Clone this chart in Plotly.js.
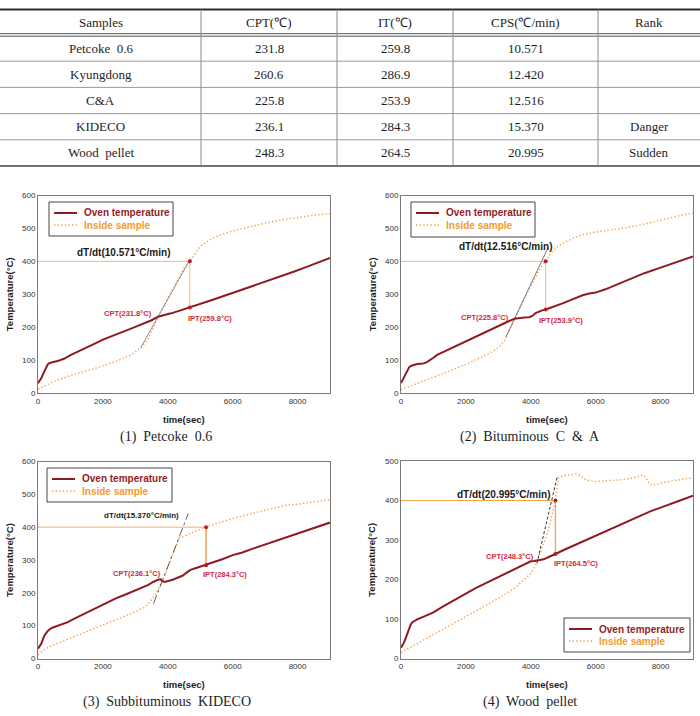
<!DOCTYPE html>
<html>
<head>
<meta charset="utf-8">
<script src="https://cdn.plot.ly/plotly-3.0.1.min.js"></script>
<style>
  html, body { margin: 0; padding: 0; background: #fff; }
  #chart { width: 700px; height: 716px; }
</style>
</head>
<body>
<div id="chart"></div>
<script>
// ---------- Summary table ----------
const tableHeaders = ['Samples', 'CPT(\u2103)', 'IT(\u2103)', 'CPS(\u2103/min)', 'Rank'];
const samples = ['Petcoke\u00a0 0.6', 'Kyungdong', 'C&A', 'KIDECO', 'Wood\u00a0 pellet'];
const cptValues = [231.8, 260.6, 225.8, 236.1, 248.3];
const itValues = [259.8, 286.9, 253.9, 284.3, 264.5];
const cpsValues = [10.571, 12.420, 12.516, 15.370, 20.995];
const rankValues = ['', '', '', 'Danger', 'Sudden'];

// ---------- Heating curves (time in s, temperature in °C) ----------
const panelCaptions = ['(1)\u00a0 Petcoke\u00a0 0.6', '(2)\u00a0 Bituminous\u00a0 C\u00a0 &\u00a0 A',
                       '(3)\u00a0 Subbituminous\u00a0 KIDECO', '(4)\u00a0 Wood\u00a0 pellet'];
const panelRows = [0, 2, 3, 4];          // table row shown in each panel
const cptTimes = [3700, 3500, 3830, 4210];
const iptTimes = [4680, 4460, 5180, 4760];
const tangentLow = [138, 170, 167, 241];
const tangentHigh = [408, 442, 441, 463];

const ovenTime1 = [0,50,100,150,200,250,300,350,400,500,600,800,1000,1250,1500,1750,2000,2250,2500,2750,3000,3250,3500,3700,3900,4100,4300,4500,4680,4900,5200,5500,5800,6100,6400,6700,7000,7300,7600,7900,8200,8500,8800,9000];
const ovenTemp1 = [30,36,45,56,68,80,87,91,93,95,97,104,115,126,138,150,162,171,181,191,201,211,221,231.8,236,242,248,254,259.8,267,277,287,297,307,317,327,338,349,359,369,380,391,402,410];
const insideTime1 = [0,500,1000,1500,2000,2500,2900,3200,3400,3550,3700,3900,4100,4300,4500,4680,4800,5000,5300,5600,6000,6500,7000,7500,8000,8500,9000];
const insideTemp1 = [12,35,53,68,82,100,118,140,165,198,231.8,268,306,345,380,400,418,445,466,480,492,505,516,526,534,540,545];

const ovenTime2 = [0,50,100,150,200,250,300,400,500,600,700,800,900,1000,1100,1250,1500,1750,2000,2250,2500,2750,3000,3250,3500,3650,3800,3950,4050,4150,4250,4350,4460,4700,5000,5300,5600,5800,6000,6300,6600,6900,7200,7500,8000,8500,9000];
const ovenTemp2 = [30,40,52,62,72,78,82,86,88,89,90,94,100,107,115,122,134,146,159,170,182,193,205,215,225.8,228,229,230,234,243,248,251,253.9,262,273,285,297,302,305,315,327,339,352,364,381,397,415];
const insideTime2 = [0,500,1000,1500,2000,2500,2800,3000,3200,3350,3500,3700,3900,4100,4300,4460,4600,4800,5000,5300,5600,6000,6500,7000,7500,8000,8500,9000];
const insideTemp2 = [10,30,48,67,87,110,125,138,160,192,225.8,266,306,344,380,400,422,443,456,470,481,489,496,503,513,526,537,547];

const ovenTime3 = [0,50,100,150,200,300,400,500,700,900,1200,1500,1800,2100,2400,2700,3000,3200,3400,3550,3700,3780,3830,3900,4000,4150,4300,4450,4600,4700,4850,5000,5180,5400,5700,6000,6300,6600,6900,7200,7500,7800,8100,8400,8700,9000];
const ovenTemp3 = [30,36,45,58,70,84,92,96,103,110,125,140,154,169,183,195,207,215,224,233,240,241,236.1,233,235,240,246,252,263,270,275,280,284.3,292,303,315,323,334,344,355,365,375,385,395,405,414];
const insideTime3 = [0,200,400,700,1000,1500,2000,2500,3000,3300,3500,3650,3750,3830,3950,4100,4250,4350,4500,4650,4800,5000,5180,5400,5700,6000,6400,6800,7200,7600,8000,8500,9000];
const insideTemp3 = [12,28,38,50,62,83,104,123,142,157,178,200,218,236.1,265,303,345,366,372,378,387,395,400,408,418,426,437,447,458,466,470,478,484];

const ovenTime4 = [0,50,100,150,200,250,300,350,400,500,700,1000,1300,1600,2000,2300,2600,3000,3300,3600,3800,4000,4100,4210,4400,4550,4650,4760,5000,5300,5600,5900,6200,6500,6800,7100,7400,7700,8000,8300,8600,9000];
const ovenTemp4 = [27,33,42,53,64,76,86,92,95,99,106,117,132,146,164,178,190,206,219,231,240,246,247,248.3,251,257,260,264.5,274,285,296,306,318,328,341,352,362,373,382,392,400,412];
const insideTime4 = [0,500,1000,1500,2000,2500,3000,3500,3800,4000,4150,4210,4300,4400,4500,4600,4700,4760,4820,4860,5000,5200,5400,5550,5700,6000,6300,6700,7000,7300,7450,7550,7650,7750,7900,8100,8400,8700,9000];
const insideTemp4 = [15,38,60,83,106,128,152,178,200,215,235,248.3,268,290,315,345,380,400,440,458,463,465,467,462,452,448,449,452,455,460,465,458,443,438,441,446,450,454,458];

const ovenTimes = [ovenTime1, ovenTime2, ovenTime3, ovenTime4];
const ovenTemps = [ovenTemp1, ovenTemp2, ovenTemp3, ovenTemp4];
const insideTimes = [insideTime1, insideTime2, insideTime3, insideTime4];
const insideTemps = [insideTemp1, insideTemp2, insideTemp3, insideTemp4];

// label anchor points in data units [time, temperature]
const slopeLabelPos = [[2640, 427], [3221, 444], [3185, 437], [3170, 416]];
const cptLabelPos = [[2775, 241], [2580, 229], [3037, 259], [3360, 257]];
const iptLabelPos = [[5314, 226], [4942, 221], [5766, 256], [5404, 241]];

// ---------- Page geometry (pixels) ----------
const W = 700, H = 716;
const fx = p => p / W;
const fy = p => 1 - p / H;

const panelBoxes = [
  {l: 38, r: 330, t: 195.5, b: 393},
  {l: 401, r: 693, t: 195.5, b: 393},
  {l: 38, r: 330, t: 461.5, b: 658.5},
  {l: 401, r: 693, t: 461, b: 658.5}
];
const yMax = [600, 600, 600, 500];
const legendBoxes = [
  {x0: 49, y0: 202, x1: 173, y1: 236},
  {x0: 411, y0: 202, x1: 535, y1: 237},
  {x0: 47, y0: 468, x1: 172, y1: 502},
  {x0: 564, y0: 618, x1: 690, y1: 652}
];
const captionPos = [[166, 437], [530, 437], [167, 702], [530, 702]];
const slopeFont = [10, 10, 8, 10];
const tangentStyle = [
  {color: '#8e8e8e', width: 1, dash: 'solid'},
  {color: '#7c7c7c', width: 1, dash: 'solid'},
  {color: '#3a3a3a', width: 0.8, dash: 'dashdot'},
  {color: '#333333', width: 1, dash: '3px,2px'}
];
const refColor = ['#f7b585', '#f7b585', '#f6ae6a', '#f2a548'];
const vertWidth = [1, 1, 1.8, 1.3];

const OVEN = '#8e1b22';
const INSIDE = '#f5a24a';
const DOTS = '1.4px,2.2px';
const LABEL_RED = '#d02a3a';
const SERIF = 'Liberation Serif, Times New Roman, serif';
const SANS = 'Arial, Liberation Sans, sans-serif';

const traces = [];
const shapes = [];
const annotations = [];
const layout = {
  width: W, height: H,
  margin: {l: 0, r: 0, t: 0, b: 0},
  paper_bgcolor: '#fff', plot_bgcolor: '#fff',
  showlegend: false, hovermode: false,
  font: {family: SANS}
};

function note(opts) {
  annotations.push(Object.assign({showarrow: false, xanchor: 'center', yanchor: 'middle'}, opts));
}

// ---------- Table ----------
const colEdges = [0, 201, 337, 453, 598, 700];
const rowTop = 9.5, headerBottom = 35, rowHeight = 26.2;
const colCenters = colEdges.slice(0, -1).map((e, i) => (e + colEdges[i + 1]) / 2);
const tableBottom = headerBottom + rowHeight * samples.length;

function hline(y, color, width) {
  shapes.push({type: 'line', xref: 'paper', yref: 'paper', x0: 0, x1: 1, y0: fy(y), y1: fy(y), line: {color: color, width: width}});
}
hline(rowTop, '#2a2a2a', 2);
hline(headerBottom - 1.3, '#555', 1);
hline(headerBottom + 1.2, '#555', 1);
for (let r = 1; r < samples.length; r++) hline(headerBottom + rowHeight * r, '#9a9a9a', 1);
hline(tableBottom, '#444', 1.5);
colEdges.slice(1, -1).forEach(x => {
  shapes.push({type: 'line', xref: 'paper', yref: 'paper', x0: fx(x), x1: fx(x), y0: fy(rowTop), y1: fy(tableBottom), line: {color: '#8a8a8a', width: 1}});
});

function cellText(text, cx, cy) {
  note({xref: 'paper', yref: 'paper', x: fx(cx), y: fy(cy), text: text,
        font: {family: SERIF, size: 13, color: '#1e1e1e'}});
}
tableHeaders.forEach((h, c) => cellText(h, colCenters[c], (rowTop + headerBottom) / 2));
samples.forEach((s, r) => {
  const cy = headerBottom + rowHeight * (r + 0.5);
  const row = [s, cptValues[r].toFixed(1), itValues[r].toFixed(1), cpsValues[r].toFixed(3), rankValues[r]];
  row.forEach((v, c) => { if (v) cellText(v, colCenters[c], cy); });
});

// ---------- Panels ----------
panelBoxes.forEach((box, i) => {
  const xa = 'xaxis' + (i ? i + 1 : '');
  const ya = 'yaxis' + (i ? i + 1 : '');
  const xr = 'x' + (i ? i + 1 : '');
  const yr = 'y' + (i ? i + 1 : '');
  const axisCommon = {
    showgrid: false, zeroline: false, showline: true, mirror: true,
    linecolor: '#7a7a7a', linewidth: 1, ticks: '', automargin: false,
    tickfont: {family: SANS, size: 8, color: '#333'}, fixedrange: true
  };
  layout[xa] = Object.assign({}, axisCommon, {
    domain: [fx(box.l), fx(box.r)], anchor: yr, range: [0, 9000], dtick: 2000, tick0: 0
  });
  layout[ya] = Object.assign({}, axisCommon, {
    domain: [fy(box.b), fy(box.t)], anchor: xr, range: [0, yMax[i]], dtick: 100, tick0: 0
  });

  const row = panelRows[i];
  const cpt = cptValues[row], ipt = itValues[row], cps = cpsValues[row];
  const slope = cps / 60; // °C per second
  const tc = cptTimes[i], ti = iptTimes[i];

  // 400 °C reference and the IPT drop line
  traces.push({x: [0, ti], y: [400, 400], xaxis: xr, yaxis: yr, mode: 'lines',
    line: {color: refColor[i], width: 1}});
  traces.push({x: [ti, ti], y: [ipt, 400], xaxis: xr, yaxis: yr, mode: 'lines',
    line: {color: refColor[i], width: vertWidth[i]}});

  // sample core temperature
  traces.push({x: insideTimes[i], y: insideTemps[i], xaxis: xr, yaxis: yr, mode: 'lines',
    line: {color: INSIDE, width: 1.4, dash: DOTS}});

  // tangent through CPT with the measured slope
  const t0 = tc - (cpt - tangentLow[i]) / slope;
  const t1 = tc + (tangentHigh[i] - cpt) / slope;
  traces.push({x: [t0, t1], y: [cpt + (t0 - tc) * slope, cpt + (t1 - tc) * slope],
    xaxis: xr, yaxis: yr, mode: 'lines', line: tangentStyle[i]});

  // oven temperature
  traces.push({x: ovenTimes[i], y: ovenTemps[i], xaxis: xr, yaxis: yr, mode: 'lines',
    line: {color: OVEN, width: 2}});

  // IPT markers
  traces.push({x: [ti, ti], y: [400, ipt], xaxis: xr, yaxis: yr, mode: 'markers',
    marker: {color: '#b0202a', size: 4}});

  // text labels
  note({xref: xr, yref: yr, x: slopeLabelPos[i][0], y: slopeLabelPos[i][1],
    text: 'dT/dt(' + cps.toFixed(3) + '°C/min)',
    font: {family: SANS, size: slopeFont[i], color: '#1a1a1a', weight: 'bold'}});
  note({xref: xr, yref: yr, x: cptLabelPos[i][0], y: cptLabelPos[i][1],
    text: 'CPT(' + cpt.toFixed(1) + '°C)',
    font: {family: SANS, size: 7.5, color: LABEL_RED, weight: 'bold'}});
  note({xref: xr, yref: yr, x: iptLabelPos[i][0], y: iptLabelPos[i][1],
    text: 'IPT(' + ipt.toFixed(1) + '°C)',
    font: {family: SANS, size: 7.5, color: LABEL_RED, weight: 'bold'}});

  // axis titles
  note({xref: 'paper', yref: 'paper', x: fx((box.l + box.r) / 2), y: fy(box.b + 26),
    text: 'time(sec)', font: {family: SANS, size: 9.5, color: '#1e1e1e', weight: 'bold'}});
  note({xref: 'paper', yref: 'paper', x: fx(box.l - 29), y: fy((box.t + box.b) / 2),
    text: 'Temperature(°C)', textangle: -90,
    font: {family: SANS, size: 9.5, color: '#1e1e1e', weight: 'bold'}});

  // caption
  note({xref: 'paper', yref: 'paper', x: fx(captionPos[i][0]), y: fy(captionPos[i][1]),
    text: panelCaptions[i], font: {family: SERIF, size: 14, color: '#1e1e1e'}});

  // legend box
  const lb = legendBoxes[i];
  shapes.push({type: 'rect', xref: 'paper', yref: 'paper', x0: fx(lb.x0), x1: fx(lb.x1),
    y0: fy(lb.y1), y1: fy(lb.y0), line: {color: '#444', width: 1}, fillcolor: '#fff', layer: 'above'});
  const rowsY = [lb.y0 + 11, lb.y0 + 23];
  shapes.push({type: 'line', xref: 'paper', yref: 'paper', x0: fx(lb.x0 + 5), x1: fx(lb.x0 + 28),
    y0: fy(rowsY[0]), y1: fy(rowsY[0]), line: {color: OVEN, width: 2}, layer: 'above'});
  shapes.push({type: 'line', xref: 'paper', yref: 'paper', x0: fx(lb.x0 + 5), x1: fx(lb.x0 + 28),
    y0: fy(rowsY[1]), y1: fy(rowsY[1]), line: {color: INSIDE, width: 1.3, dash: DOTS}, layer: 'above'});
  note({xref: 'paper', yref: 'paper', x: fx(lb.x0 + 33), y: fy(rowsY[0]), xanchor: 'left',
    text: 'Oven temperature', font: {family: SANS, size: 10, color: '#951c24', weight: 'bold'}});
  note({xref: 'paper', yref: 'paper', x: fx(lb.x0 + 33), y: fy(rowsY[1]), xanchor: 'left',
    text: 'Inside sample', font: {family: SANS, size: 10, color: '#f39a30', weight: 'bold'}});
});

layout.shapes = shapes;
layout.annotations = annotations;

Plotly.newPlot('chart', traces, layout, {displayModeBar: false, responsive: false});
</script>
</body>
</html>
